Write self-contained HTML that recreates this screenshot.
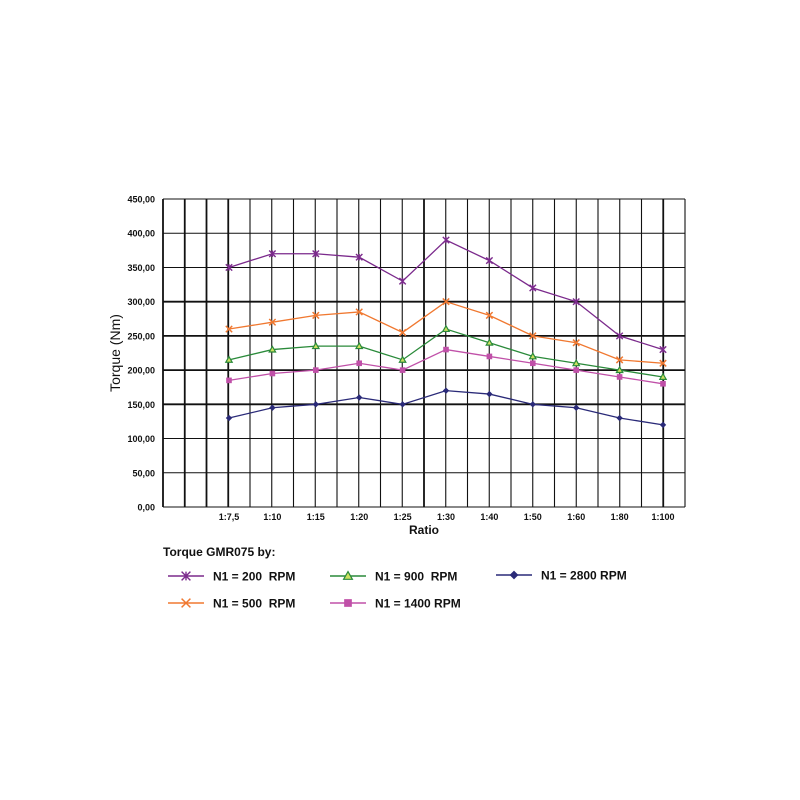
<!DOCTYPE html>
<html><head><meta charset="utf-8"><style>
html,body{margin:0;padding:0;background:#fff;}
svg{display:block;font-family:"Liberation Sans",Arial,sans-serif;}
</style></head><body>
<svg id="s" width="800" height="800" xmlns="http://www.w3.org/2000/svg">
<rect width="800" height="800" fill="#fff"/>
<g id="g"></g>
</svg>
<script>
var g=document.getElementById('g'),h='';
var x0=163,x1=685,y0=507,yt=199;
function Y(v){return y0-(v/450)*(y0-yt);}
for(var v=0;v<=450;v+=50){var y=Y(v);var th=(v>=150&&v<=300)?1.8:1;
h+='<line x1="'+x0+'" y1="'+y+'" x2="'+x1+'" y2="'+y+'" stroke="#111" stroke-width="'+th+'"/>';
h+='<text x="155" y="'+(y+3.5)+'" font-size="9" font-weight="bold" text-anchor="end" fill="#111">'+v+',00</text>';}
for(var i=0;i<=24;i++){var x=x0+i*(x1-x0)/24;var th=(i<=3||i==12||i==23)?1.8:1.1;
h+='<line x1="'+x+'" y1="'+yt+'" x2="'+x+'" y2="'+y0+'" stroke="#111" stroke-width="'+th+'"/>';}
var lab=['1:7,5','1:10','1:15','1:20','1:25','1:30','1:40','1:50','1:60','1:80','1:100'];
function X(i){return 229+i*(663-229)/10;}
for(var i=0;i<11;i++)h+='<text x="'+X(i)+'" y="520" font-size="9" font-weight="bold" text-anchor="middle" fill="#111">'+lab[i]+'</text>';
h+='<text x="424" y="534" font-size="12" font-weight="bold" text-anchor="middle" fill="#111">Ratio</text>';
h+='<text transform="translate(120,353) rotate(-90)" font-size="14" text-anchor="middle" fill="#111">Torque (Nm)</text>';
var S=[
['#7b2a8c','star',[350,370,370,365,330,390,360,320,300,250,230]],
['#f07830','x',[260,270,280,285,255,300,280,250,240,215,210]],
['#2a8a3a','tri',[215,230,235,235,215,260,240,220,210,200,190]],
['#c050a8','sq',[185,195,200,210,200,230,220,210,200,190,180]],
['#2a2a78','dia',[130,145,150,160,150,170,165,150,145,130,120]]];
function mk(t,c,x,y,s){s=s||0.8;
if(t=='star')return '<path d="M'+(x-4*s)+','+(y-4*s)+'L'+(x+4*s)+','+(y+4*s)+'M'+(x+4*s)+','+(y-4*s)+'L'+(x-4*s)+','+(y+4*s)+'M'+x+','+(y-4*s)+'L'+x+','+(y+4*s)+'" stroke="'+c+'" stroke-width="1.4"/>';
if(t=='x')return '<path d="M'+(x-4*s)+','+(y-4*s)+'L'+(x+4*s)+','+(y+4*s)+'M'+(x+4*s)+','+(y-4*s)+'L'+(x-4*s)+','+(y+4*s)+'" stroke="'+c+'" stroke-width="1.5"/>';
if(t=='tri')return '<path d="M'+x+','+(y-4*s)+'L'+(x+4*s)+','+(y+3*s)+'L'+(x-4*s)+','+(y+3*s)+'Z" fill="#cde060" stroke="'+c+'" stroke-width="1.2"/>';
if(t=='sq')return '<rect x="'+(x-3.5*s)+'" y="'+(y-3.5*s)+'" width="'+7*s+'" height="'+7*s+'" fill="'+c+'"/>';
return '<path d="M'+x+','+(y-4*s)+'L'+(x+4*s)+','+y+'L'+x+','+(y+4*s)+'L'+(x-4*s)+','+y+'Z" fill="'+c+'"/>';}
S.forEach(function(s){var p=s[2].map(function(v,i){return X(i)+','+Y(v)}).join(' ');
h+='<polyline points="'+p+'" fill="none" stroke="'+s[0]+'" stroke-width="1.3"/>';
s[2].forEach(function(v,i){h+=mk(s[1],s[0],X(i),Y(v));});});
h+='<text x="163" y="556" font-size="12" font-weight="bold" fill="#111">Torque GMR075 by:</text>';
var L=[[168,576,0,'N1 = 200  RPM'],[330,576,2,'N1 = 900  RPM'],[496,575,4,'N1 = 2800 RPM'],[168,603,1,'N1 = 500  RPM'],[330,603,3,'N1 = 1400 RPM']];
L.forEach(function(l){var s=S[l[2]];
h+='<line x1="'+l[0]+'" y1="'+l[1]+'" x2="'+(l[0]+36)+'" y2="'+l[1]+'" stroke="'+s[0]+'" stroke-width="1.5"/>';
h+=mk(s[1],s[0],l[0]+18,l[1],1.1);
h+='<text x="'+(l[0]+45)+'" y="'+(l[1]+4.5)+'" font-size="12" font-weight="bold" fill="#111" xml:space="preserve">'+l[3]+'</text>';});
g.innerHTML=h;
</script>
</body></html>
